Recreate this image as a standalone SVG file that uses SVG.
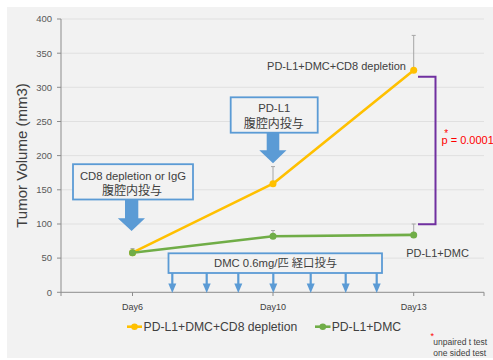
<svg xmlns="http://www.w3.org/2000/svg" width="493" height="360" viewBox="0 0 493 360">
<style>
text{font-family:"Liberation Sans","Noto Sans CJK JP",sans-serif;fill:#404040}
.tick{font-size:9.5px;fill:#595959;text-anchor:end}
.day{font-size:9px;text-anchor:middle}
.grid{stroke:#e0e0e0;stroke-width:1}
.box{fill:#f2f2f2;stroke:#5b9bd5;stroke-width:1.8}
.bt{font-size:11.3px;text-anchor:middle}
.cj{font-size:12px;text-anchor:middle}
.err{stroke:#a6a6a6;stroke-width:1;fill:none}
.small{fill:none;stroke:#5b9bd5;stroke-width:2.2}
</style>
<defs>
<marker id="ah" markerWidth="8" markerHeight="8" refX="4" refY="6" orient="auto" markerUnits="userSpaceOnUse" viewBox="0 0 8 8">
<path d="M0,0 L8,0 L4,8 Z" fill="#5b9bd5" transform="rotate(-90 4 4)"/>
</marker>
</defs>
<rect x="0" y="0" width="493" height="360" fill="#ffffff"/>
<rect x="7" y="7" width="486" height="351" fill="#f2f2f2"/>
<g id="grid">
<line class="grid" x1="61" y1="19" x2="484" y2="19"/>
<line class="grid" x1="61" y1="53.2" x2="484" y2="53.2"/>
<line class="grid" x1="61" y1="87.3" x2="484" y2="87.3"/>
<line class="grid" x1="61" y1="121.5" x2="484" y2="121.5"/>
<line class="grid" x1="61" y1="155.6" x2="484" y2="155.6"/>
<line class="grid" x1="61" y1="189.8" x2="484" y2="189.8"/>
<line class="grid" x1="61" y1="224" x2="484" y2="224"/>
<line class="grid" x1="61" y1="258.1" x2="484" y2="258.1"/>
</g>
<g id="axes" stroke="#8c8c8c" stroke-width="1">
<line x1="61" y1="19" x2="61" y2="292.3"/>
<line x1="61" y1="292.3" x2="484" y2="292.3"/>
<path d="M57,19H61M57,53.2H61M57,87.3H61M57,121.5H61M57,155.6H61M57,189.8H61M57,224H61M57,258.1H61M57,292.3H61"/>
<path d="M61,292.3V296M132.5,292.3V296M273,292.3V296M413.7,292.3V296M484,292.3V296"/>
</g>
<g id="ticklabels">
<text class="tick" x="52" y="22.3">400</text>
<text class="tick" x="52" y="56.5">350</text>
<text class="tick" x="52" y="90.6">300</text>
<text class="tick" x="52" y="124.8">250</text>
<text class="tick" x="52" y="158.9">200</text>
<text class="tick" x="52" y="193.1">150</text>
<text class="tick" x="52" y="227.3">100</text>
<text class="tick" x="52" y="261.4">50</text>
<text class="tick" x="52" y="295.6">0</text>
<text class="day" x="132.5" y="310">Day6</text>
<text class="day" x="273" y="310">Day10</text>
<text class="day" x="413.7" y="310">Day13</text>
</g>
<text x="0" y="0" transform="translate(27,155.5) rotate(-90)" text-anchor="middle" font-size="15" fill="#404040">Tumor Volume (mm3)</text>
<g id="errorbars" class="err">
<path d="M132.5,252.7V248.6M130.5,248.6H134.5"/>
<path d="M273,183.7V166.6M271,166.6H275"/>
<path d="M413.7,70.2V35.4M411.7,35.4H415.7"/>
<path d="M273,236.3V230.5M271,230.5H275"/>
<path d="M413.7,234.9V224M411.7,224H415.7"/>
</g>
<g id="series-orange">
<polyline points="132.5,252.7 273,183.7 413.7,70.2" fill="none" stroke="#ffc000" stroke-width="2.6" stroke-linejoin="round"/>
<circle cx="132.5" cy="252.7" r="3.5" fill="#ffc000"/>
<circle cx="273" cy="183.7" r="3.5" fill="#ffc000"/>
<circle cx="413.7" cy="70.2" r="3.5" fill="#ffc000"/>
</g>
<g id="series-green">
<polyline points="132.5,252.7 273,236.3 413.7,234.9" fill="none" stroke="#70ad47" stroke-width="2.6" stroke-linejoin="round"/>
<circle cx="132.5" cy="252.7" r="3.5" fill="#70ad47"/>
<circle cx="273" cy="236.3" r="3.5" fill="#70ad47"/>
<circle cx="413.7" cy="234.9" r="3.5" fill="#70ad47"/>
</g>
<text x="336.5" y="70" font-size="11" text-anchor="middle">PD-L1+DMC+CD8 depletion</text>
<text x="437.5" y="257" font-size="11" text-anchor="middle">PD-L1+DMC</text>
<g id="bracket">
<polyline points="418,76.7 435.5,76.7 435.5,224.3 418,224.3" fill="none" stroke="#7030a0" stroke-width="2"/>
</g>
<g id="pvalue">
<text x="441.5" y="143.5" font-size="11" fill="#ff0000" style="fill:#ff0000">p = 0.0001</text>
<text x="444.2" y="137" font-size="10" fill="#ff0000" style="fill:#ff0000">*</text>
</g>
<g id="node-cd8">
<rect class="box" x="73" y="164.2" width="120" height="35.3"/>
<text class="bt" x="133" y="179.6">CD8 depletion or IgG</text>
<text class="cj" x="132" y="195">腹腔内投与</text>
<polygon points="125,199.5 138.3,199.5 138.3,218.3 145,218.3 131.6,231 117.8,218.3 125,218.3" fill="#5b9bd5"/>
</g>
<g id="node-pdl1">
<rect class="box" x="230.7" y="97.3" width="87" height="35.4"/>
<text class="bt" x="274.2" y="112.4">PD-L1</text>
<text class="cj" x="273.7" y="127.6">腹腔内投与</text>
<polygon points="266.7,132.7 279.3,132.7 279.3,150.3 286.5,150.3 273,163.3 259.3,150.3 266.7,150.3" fill="#5b9bd5"/>
</g>
<g id="node-dmc">
<rect class="box" x="168.5" y="253.3" width="213.5" height="19.7"/>
<text class="bt" x="275.5" y="267.2">DMC 0.6mg/匹 経口投与</text>
</g>
<g id="connectors" class="small">
<path d="M172.3,273V288"/>
<path d="M206.7,273V288"/>
<path d="M238.3,273V288"/>
<path d="M273.3,273V288"/>
<path d="M310.7,273V288"/>
<path d="M345.7,273V288"/>
<path d="M376.7,273V288"/>
<g fill="#5b9bd5" stroke="none">
<polygon points="168.3,283.5 176.3,283.5 172.3,293"/>
<polygon points="202.7,283.5 210.7,283.5 206.7,293"/>
<polygon points="234.3,283.5 242.3,283.5 238.3,293"/>
<polygon points="269.3,283.5 277.3,283.5 273.3,293"/>
<polygon points="306.7,283.5 314.7,283.5 310.7,293"/>
<polygon points="341.7,283.5 349.7,283.5 345.7,293"/>
<polygon points="372.7,283.5 380.7,283.5 376.7,293"/>
</g>
</g>
<g id="legend">
<line x1="127" y1="326.7" x2="142" y2="326.7" stroke="#ffc000" stroke-width="2.6"/>
<circle cx="134.5" cy="326.7" r="3.3" fill="#ffc000"/>
<text x="143.5" y="331" font-size="12.2">PD-L1+DMC+CD8 depletion</text>
<line x1="315" y1="326.7" x2="330.5" y2="326.7" stroke="#70ad47" stroke-width="2.6"/>
<circle cx="322.8" cy="326.7" r="3.3" fill="#70ad47"/>
<text x="331.7" y="331" font-size="12.2">PD-L1+DMC</text>
</g>
<g id="note">
<text x="430.5" y="339" font-size="9" style="fill:#ff0000">*</text>
<text x="433.3" y="345.3" font-size="8.5">unpaired t test</text>
<text x="433.3" y="356" font-size="8.5">one sided test</text>
</g>
</svg>
